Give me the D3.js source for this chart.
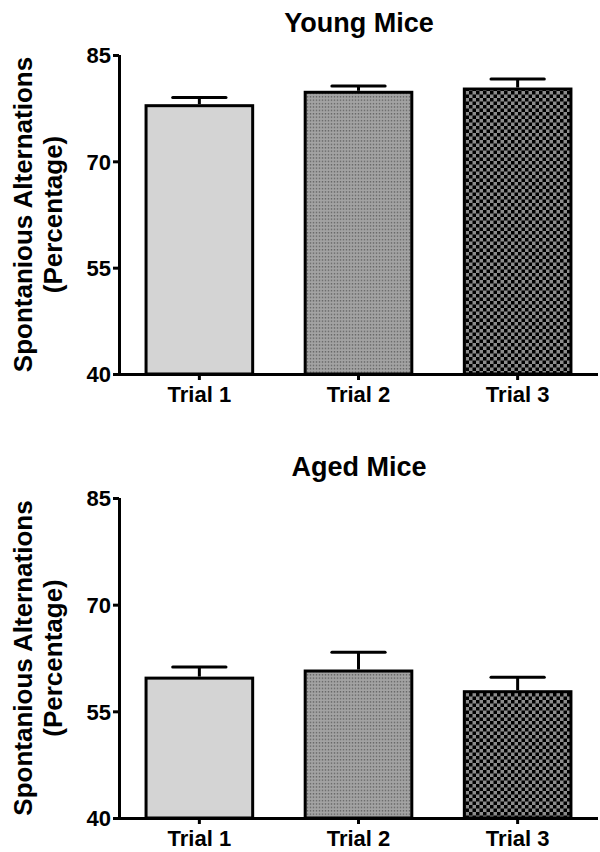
<!DOCTYPE html>
<html><head><meta charset="utf-8">
<script src="https://cdn.jsdelivr.net/npm/d3@7"></script>
<style>body{margin:0;background:#fff}svg{display:block}text{font-family:Arial,"Liberation Sans",sans-serif;font-weight:bold;fill:#000}</style>
</head><body><div id="chart"></div>
<script>
const categories = ["Trial 1", "Trial 2", "Trial 3"];
const youngMeans = [77.85, 79.74, 80.2];
const youngSem = [1.15, 0.9, 1.4];
const agedMeans = [59.67, 60.67, 57.76];
const agedSem = [1.57, 2.63, 2.04];
const yTicks = [40, 55, 70, 85];
const titles = ["Young Mice", "Aged Mice"];
const yLabelLines = ["Spontanious Alternations", "(Percentage)"];

const W = 600, H = 852;
const svg = d3.select("#chart").append("svg").attr("width", W).attr("height", H);

const defs = svg.append("defs");
// dotted pattern
const p2 = defs.append("pattern").attr("id", "dots").attr("patternUnits", "userSpaceOnUse").attr("width", 3).attr("height", 3.4);
p2.append("rect").attr("width", 3).attr("height", 3.4).attr("fill", "#a3a3a3");
p2.append("rect").attr("x", 0.8).attr("y", 0.9).attr("width", 1.4).attr("height", 1.4).attr("fill", "#666");
// checker pattern
const p3 = defs.append("pattern").attr("id", "checker").attr("patternUnits", "userSpaceOnUse").attr("width", 7).attr("height", 7);
p3.append("rect").attr("width", 7).attr("height", 7).attr("fill", "#8c8c8c");
p3.append("rect").attr("width", 3.5).attr("height", 3.5).attr("fill", "#000");
p3.append("rect").attr("x", 3.5).attr("y", 3.5).attr("width", 3.5).attr("height", 3.5).attr("fill", "#000");

const fills = ["#d4d4d4", "url(#dots)", "url(#checker)"];

const x = d3.scaleBand().domain(categories).range([119, 598]).paddingInner(0.33).paddingOuter(0.17);

function panel(means, sems, title, top, bottom, titleY) {
  const y = d3.scaleLinear().domain([40, 85]).range([bottom, top]);
  const g = svg.append("g");
  g.append("text").attr("x", 359).attr("y", titleY).attr("text-anchor", "middle")
    .style("font-size", "27px").text(title);

  const cy = (top + bottom) / 2;
  g.append("text").attr("transform", `translate(32,${cy}) rotate(-90)`).attr("text-anchor", "middle")
    .style("font-size", "26px").text(yLabelLines[0]);
  g.append("text").attr("transform", `translate(62,${cy}) rotate(-90)`).attr("text-anchor", "middle")
    .style("font-size", "26px").text(yLabelLines[1]);

  const data = categories.map((c, i) => ({c, m: means[i], s: sems[i], f: fills[i]}));
  g.selectAll("rect.bar").data(data).join("rect").attr("class", "bar")
    .attr("x", d => x(d.c)).attr("width", x.bandwidth())
    .attr("y", d => y(d.m)).attr("height", d => y(40) - y(d.m))
    .attr("fill", d => d.f).attr("stroke", "#000").attr("stroke-width", 3);

  const cap = x.bandwidth() / 2;
  g.selectAll("line.err").data(data).join("line").attr("class", "err")
    .attr("x1", d => x(d.c) + x.bandwidth() / 2).attr("x2", d => x(d.c) + x.bandwidth() / 2)
    .attr("y1", d => y(d.m) - 1.5).attr("y2", d => y(d.m + d.s))
    .attr("stroke", "#000").attr("stroke-width", 3);
  g.selectAll("line.cap").data(data).join("line").attr("class", "cap")
    .attr("x1", d => x(d.c) + x.bandwidth() / 2 - cap / 2).attr("x2", d => x(d.c) + x.bandwidth() / 2 + cap / 2)
    .attr("y1", d => y(d.m + d.s)).attr("y2", d => y(d.m + d.s))
    .attr("stroke", "#000").attr("stroke-width", 3).attr("stroke-linecap", "round");

  const ya = g.append("g").attr("transform", `translate(119,0)`)
    .call(d3.axisLeft(y).tickValues(yTicks).tickSize(6).tickPadding(2).tickSizeOuter(0));
  ya.select(".domain").attr("stroke-width", 3).attr("d", `M0.5,${top}V${bottom + 1.5}`);
  ya.selectAll(".tick line").attr("stroke-width", 3);
  ya.selectAll(".tick text").style("font-size", "22px").attr("dy", "0.36em");

  const xa = g.append("g").attr("transform", `translate(0,${bottom})`)
    .call(d3.axisBottom(x).tickSize(6).tickPadding(6).tickSizeOuter(0));
  xa.select(".domain").attr("stroke-width", 3).attr("d", `M118,0.5H598`);
  xa.selectAll(".tick line").attr("stroke-width", 3);
  xa.selectAll(".tick text").style("font-size", "22px");
}

panel(youngMeans, youngSem, titles[0], 55, 374, 32);
panel(agedMeans, agedSem, titles[1], 498, 818, 476);
</script></body></html>
